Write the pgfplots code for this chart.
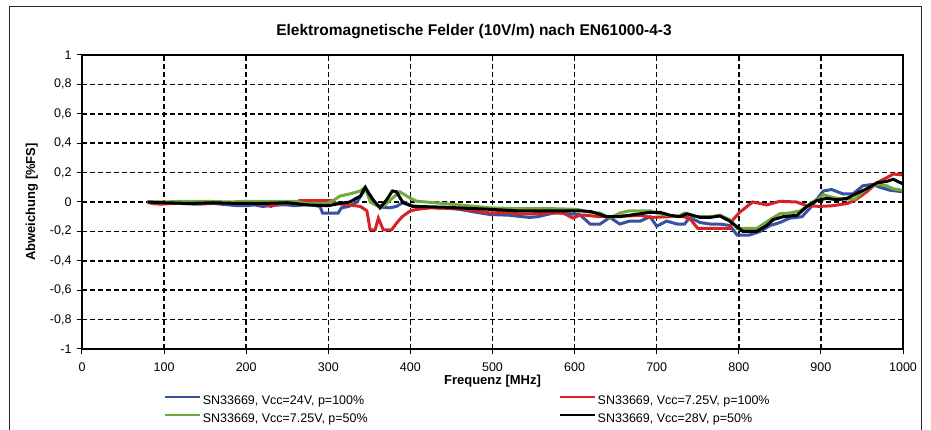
\documentclass[border=0pt]{standalone}
\usepackage{fontspec}
\setmainfont{Liberation Sans}
\usepackage{pgfplots}
\pgfplotsset{compat=1.18}
\definecolor{SerBlue}{RGB}{58,80,160}
\definecolor{SerRed}{RGB}{215,35,40}
\definecolor{SerGreen}{RGB}{112,170,60}

\begin{document}
\begin{tikzpicture}
\useasboundingbox (-82pt,-81pt) rectangle (849pt,349pt);
% outer chart frame
\draw[line width=1pt,black!85] (-72pt,-81pt) -- (-72pt,342pt) -- (839pt,342pt) -- (839pt,-81pt);
\begin{axis}[
    at={(0pt,0pt)}, anchor=south west,
    scale only axis, width=821pt, height=294pt,
    xmin=0, xmax=1000, ymin=-1, ymax=1,
    xtick={0,100,200,300,400,500,600,700,800,900,1000},
    xticklabels={0,100,200,300,400,500,600,700,800,900,1000},
    ytick={-1,-0.8,-0.6,-0.4,-0.2,0,0.2,0.4,0.6,0.8,1},
    yticklabels={{-1},{-0,8},{-0,6},{-0,4},{-0,2},{0},{0,2},{0,4},{0,6},{0,8},{1}},
    tick label style={font=\fontsize{12.5}{14}\selectfont},
    xticklabel style={anchor=base, yshift=-18pt},
    yticklabel style={xshift=-2pt},
    xtick pos=bottom, ytick pos=left,
    tick align=outside, major tick length=5pt,
    tick style={black, line width=1pt},
    axis line style={black, line width=1.5pt},
    grid=major,
    major grid style={black, line width=1.5pt, dash pattern=on 5pt off 3pt},
    title={Elektromagnetische Felder (10V/m) nach EN61000-4-3},
    title style={font=\bfseries\fontsize{15.5}{18}\selectfont,
                 at={(axis description cs:0.4775,1)}, anchor=center, yshift=17pt},
    xlabel={Frequenz [MHz]},
    xlabel style={font=\bfseries\fontsize{13}{15}\selectfont,
                  at={(axis description cs:0.5,0)}, anchor=center, yshift=-32pt},
    ylabel={Abweichung [\%FS]},
    ylabel style={font=\bfseries\fontsize{13}{15}\selectfont,
                  at={(axis description cs:-0.061,0.5)}, anchor=center},
    legend columns=2,
    legend cell align=left,
    legend style={at={(axis description cs:0.1,-0.153)}, anchor=north west,
                  draw=none, fill=none, inner sep=0pt, row sep=5pt,
                  font=\fontsize{12.5}{14}\selectfont,
                  nodes={inner sep=1.5pt},
                  /tikz/column 2/.style={column sep=190pt}},
    legend image code/.code={\draw[#1, line width=2pt] (0pt,4pt) -- (35pt,4pt);},
]
\addplot[SerBlue, line width=3pt] coordinates {
(80,0) (90,-0.005) (100,-0.01) (120,-0.01) (140,-0.015) (160,-0.01) (180,-0.02) (190,-0.025)
(200,-0.025) (210,-0.02) (220,-0.03) (230,-0.025) (240,-0.02) (250,-0.02) (260,-0.025)
(270,-0.02) (280,-0.02) (290,-0.03) (293,-0.075) (312,-0.075) (316,-0.04) (325,-0.03)
(335,0.0) (345,0.09) (352,0.04) (358,-0.02) (365,-0.035) (375,-0.04) (383,-0.03) (392,0.0)
(400,-0.025) (420,-0.035) (440,-0.04) (460,-0.05) (480,-0.07) (497,-0.085) (520,-0.09)
(545,-0.105) (555,-0.1) (578,-0.07) (590,-0.08) (606,-0.085) (619,-0.15) (631,-0.15)
(643,-0.105) (655,-0.15) (667,-0.13) (680,-0.13) (692,-0.1) (700,-0.165) (712,-0.13)
(725,-0.15) (734,-0.15) (740,-0.105) (753,-0.14) (765,-0.15) (777,-0.15) (789,-0.16)
(798,-0.225) (813,-0.225) (826,-0.2) (838,-0.16) (850,-0.14) (862,-0.11) (877,-0.1)
(887,-0.04) (903,0.075) (913,0.085) (927,0.055) (939,0.055) (951,0.11) (963,0.12)
(972,0.1) (984,0.08) (999,0.07)
};
\addlegendentry{SN33669, Vcc=24V, p=100\%}
\addplot[SerRed, line width=3pt] coordinates {
(80,0) (85,-0.01) (95,-0.015) (110,-0.01) (130,-0.01) (150,-0.01) (170,-0.005) (190,-0.01)
(210,-0.01) (225,-0.015) (230,-0.03) (240,-0.01) (262,-0.005) (265,0.01) (305,0.01)
(310,-0.01) (325,-0.02) (339,-0.03) (347,-0.06) (351,-0.19) (357,-0.19) (361,-0.11)
(367,-0.19) (377,-0.19) (383,-0.145) (390,-0.1) (400,-0.06) (408,-0.05) (424,-0.04)
(460,-0.045) (497,-0.075) (515,-0.07) (530,-0.08) (550,-0.08) (570,-0.075) (586,-0.075)
(598,-0.11) (606,-0.09) (613,-0.09) (631,-0.1) (643,-0.1) (655,-0.095) (667,-0.095)
(680,-0.09) (692,-0.105) (716,-0.1) (728,-0.095) (740,-0.11) (750,-0.18) (789,-0.18)
(793,-0.12) (801,-0.07) (817,0.0) (834,-0.02) (850,0.005) (870,0.0) (883,-0.025)
(899,-0.03) (915,-0.025) (932,-0.01) (941,0.01) (956,0.07) (968,0.13) (980,0.165)
(988,0.19) (999,0.185)
};
\addlegendentry{SN33669, Vcc=7.25V, p=100\%}
\addplot[SerGreen, line width=3pt] coordinates {
(80,0) (100,0) (120,0.005) (150,0.005) (180,0.0) (200,0.005) (230,0.005) (260,0.005)
(274,-0.01) (298,-0.01) (306,0.01) (314,0.04) (326,0.055) (339,0.075) (345,0.1) (351,0.0)
(359,-0.025) (368,-0.025) (379,0.03) (387,0.07) (400,0.025) (408,0.005) (430,-0.005)
(460,-0.02) (497,-0.04) (530,-0.045) (570,-0.045) (603,-0.05) (619,-0.07) (631,-0.075)
(643,-0.11) (655,-0.075) (667,-0.06) (692,-0.06) (700,-0.075) (712,-0.09) (725,-0.1)
(734,-0.075) (745,-0.1) (765,-0.1) (777,-0.09) (789,-0.12) (798,-0.18) (822,-0.18)
(838,-0.12) (850,-0.08) (862,-0.075) (875,-0.06) (887,-0.01) (899,0.03) (903,0.05)
(915,0.03) (927,0.02) (941,0.02) (951,0.07) (963,0.11) (970,0.12) (980,0.11) (988,0.09)
(999,0.08)
};
\addlegendentry{SN33669, Vcc=7.25V, p=50\%}
\addplot[black, line width=3pt] coordinates {
(80,0) (100,-0.005) (130,-0.01) (160,-0.005) (190,-0.01) (220,-0.01) (250,-0.005)
(275,-0.02) (300,-0.025) (314,-0.01) (326,0.0) (339,0.04) (345,0.1) (353,0.025)
(363,-0.04) (371,0.015) (378,0.075) (383,0.07) (391,-0.005) (403,-0.03) (440,-0.035)
(497,-0.05) (530,-0.06) (580,-0.06) (607,-0.06) (620,-0.065) (631,-0.085) (639,-0.1)
(655,-0.1) (667,-0.09) (680,-0.08) (692,-0.07) (704,-0.07) (716,-0.09) (728,-0.1)
(737,-0.08) (753,-0.105) (765,-0.105) (777,-0.095) (789,-0.13) (798,-0.17) (805,-0.2)
(822,-0.2) (834,-0.16) (842,-0.12) (854,-0.1) (871,-0.09) (883,-0.03) (895,0.01)
(907,0.025) (920,0.015) (932,0.025) (944,0.06) (956,0.09) (968,0.13) (980,0.14)
(988,0.155) (999,0.125)
};
\addlegendentry{SN33669, Vcc=28V, p=50\%}
\end{axis}
\end{tikzpicture}
\end{document}
